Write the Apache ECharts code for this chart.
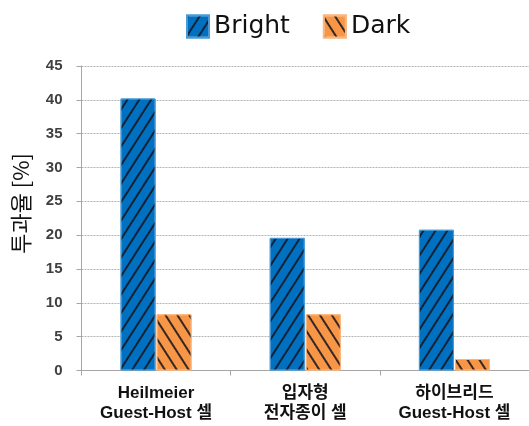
<!DOCTYPE html>
<html><head><meta charset="utf-8">
<script src="https://cdn.jsdelivr.net/npm/echarts@6/dist/echarts.min.js"></script>
<style>html,body{margin:0;padding:0;background:#fff}#c{width:529px;height:426px}</style>
</head><body><div id="c"></div>
<script>
const categories = ['Heilmeier\nGuest-Host 셀', '입자형\n전자종이 셀', '하이브리드\nGuest-Host 셀'];
const brightValues = [40.2, 19.6, 20.8];
const darkValues = [8.3, 8.3, 1.7];
const yTicks = [0, 45, 5];
const seriesNames = ['Bright', 'Dark'];
const yAxisTitle = '투과율 [%]';

const chart = echarts.init(document.getElementById('c'), null, {renderer: 'canvas'});
const decalBase = {symbol: 'rect', symbolSize: 1, dashArrayX: [1, 0], dashArrayY: [1.8, 7.2], color: 'rgba(20,20,30,0.85)'};
chart.setOption({
  animation: false,
  legend: {
    top: 9, left: 181, itemWidth: 22, itemHeight: 22, itemGap: 33, icon: 'rect',
    textStyle: {fontSize: 25, fontFamily: 'DejaVu Sans', color: '#111'},
    data: seriesNames
  },
  grid: {left: 81.5, right: 0, top: 66, bottom: 55.5},
  xAxis: {
    type: 'category', data: categories,
    axisLine: {lineStyle: {color: '#a6a6a6'}},
    axisTick: {show: true, length: 5, lineStyle: {color: '#a6a6a6'}},
    axisLabel: {margin: 13, fontSize: 17, fontWeight: 'bold', color: '#111', lineHeight: 20, fontFamily: 'Liberation Sans, Noto Sans CJK KR'}
  },
  yAxis: {
    type: 'value', min: yTicks[0], max: yTicks[1], interval: yTicks[2],
    axisLine: {show: true, lineStyle: {color: '#a6a6a6'}},
    axisTick: {show: true, length: 5, lineStyle: {color: '#a6a6a6'}},
    axisLabel: {margin: 19, fontSize: 15, fontWeight: 'bold', color: '#404040', fontFamily: 'Liberation Sans'},
    splitLine: {lineStyle: {color: '#b4b4b4', type: [2, 1]}}
  },
  graphic: [{
    type: 'text', left: 10, top: 153, rotation: Math.PI / 2,
    style: {text: yAxisTitle, fontSize: 22, fill: '#111', fontFamily: 'Noto Sans CJK KR'}
  }],
  series: [
    {name: seriesNames[0], type: 'bar', data: brightValues, barWidth: 35, barGap: '3%',
     itemStyle: {color: '#0070C0', borderColor: '#4a9ad6', borderWidth: 1,
       decal: Object.assign({}, decalBase, {rotation: -1.0})}},
    {name: seriesNames[1], type: 'bar', data: darkValues, barWidth: 35, barGap: '3%',
     itemStyle: {color: '#F79646', borderColor: '#fbb57d', borderWidth: 1,
       decal: Object.assign({}, decalBase, {rotation: 1.0})}}
  ]
});
</script></body></html>
